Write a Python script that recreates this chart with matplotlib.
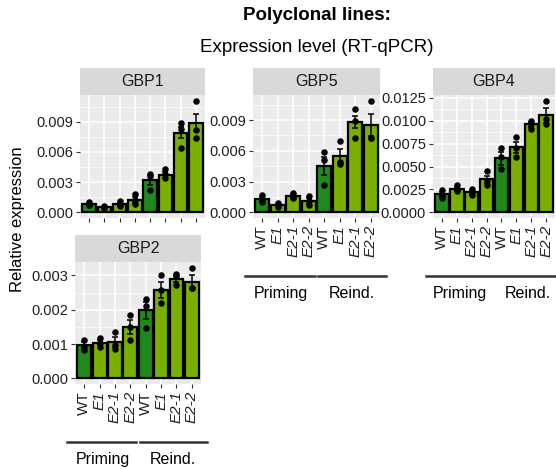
import numpy as np
import matplotlib.pyplot as plt
from matplotlib.patches import Rectangle

plt.rcParams['font.family'] = ['Liberation Sans', 'DejaVu Sans']

W, H = 556, 469

conditions = ["WT", "E1", "E2-1", "E2-2", "WT", "E1", "E2-1", "E2-2"]
groups = ["Priming", "Reind."]
is_wt = [True, False, False, False, True, False, False, False]

# GBP1
gbp1_mean = [0.00082, 0.0005, 0.0008, 0.0012, 0.0032, 0.0037, 0.0079, 0.0089]
gbp1_sem = [0.0001, 0.00005, 0.00015, 0.0003, 0.0005, 0.0003, 0.00055, 0.00085]
gbp1_pts = [[0.0010, 0.0007, 0.0007], [0.0006, 0.0005, 0.0004], [0.0011, 0.0007, 0.0006],
            [0.0018, 0.0012, 0.0008], [0.0038, 0.0036, 0.0022], [0.0043, 0.0038, 0.0034],
            [0.0089, 0.0083, 0.0064], [0.0111, 0.0082, 0.0074]]

# GBP5
gbp5_mean = [0.0013, 0.0007, 0.0016, 0.0011, 0.0045, 0.0055, 0.0088, 0.0085]
gbp5_sem = [0.0002, 0.0001, 0.0002, 0.0003, 0.0009, 0.0007, 0.0006, 0.0011]
gbp5_pts = [[0.0017, 0.0013, 0.0010], [0.0009, 0.0007, 0.0005], [0.0019, 0.0015, 0.0014],
            [0.0016, 0.0011, 0.0007], [0.0059, 0.0051, 0.0027], [0.0070, 0.0049, 0.0047],
            [0.0101, 0.0089, 0.0073], [0.0109, 0.0073, 0.0073]]

# GBP4
gbp4_mean = [0.0020, 0.0026, 0.0022, 0.0036, 0.0059, 0.0071, 0.0096, 0.0106]
gbp4_sem = [0.0002, 0.0002, 0.0002, 0.0004, 0.0007, 0.0006, 0.0003, 0.0008]
gbp4_pts = [[0.0024, 0.0018, 0.0016], [0.0030, 0.0025, 0.0023], [0.0025, 0.0022, 0.0019],
            [0.0045, 0.0034, 0.0030], [0.0070, 0.0060, 0.0047], [0.0082, 0.0070, 0.0060],
            [0.0100, 0.0096, 0.0091], [0.0122, 0.0102, 0.0096]]

# GBP2
gbp2_mean = [0.00096, 0.00104, 0.00106, 0.0015, 0.00198, 0.00258, 0.00291, 0.00282]
gbp2_sem = [0.00009, 0.00008, 0.00015, 0.0002, 0.00025, 0.00023, 0.0001, 0.0002]
gbp2_pts = [[0.00113, 0.00092, 0.00082], [0.00118, 0.00102, 0.00092], [0.00136, 0.00098, 0.00086],
            [0.00186, 0.0015, 0.00112], [0.00232, 0.00212, 0.00147], [0.0030, 0.00258, 0.0022],
            [0.00304, 0.00298, 0.00272], [0.00323, 0.00262, 0.00262]]

dark_green = '#1E8A1E'
light_green = '#79B000'
txt_col = '#1F1F1F'

fig = plt.figure(figsize=(W / 100, H / 100), dpi=100)


def panel(name, means, sems, pts, yticks, fmt, box, show_labels):
    left, top, right, bottom = box
    ax = fig.add_axes([left / W, 1 - bottom / H, (right - left) / W, (bottom - top) / H])
    ax.set_facecolor('#EBEBEB')
    x = np.arange(1, len(means) + 1)
    cols = [dark_green if w else light_green for w in is_wt]
    ax.bar(x, means, width=0.9, color=cols, edgecolor='black', linewidth=1.6, zorder=3)
    ax.errorbar(x, means, yerr=sems, fmt='none', ecolor='black', elinewidth=1.1,
                capsize=2.5, capthick=1.1, zorder=4)
    for xi, p in zip(x, pts):
        ax.scatter([xi] * len(p), p, s=22, color='black', zorder=5, linewidths=0)
    top_val = max(max(max(p) for p in pts), max(m + s for m, s in zip(means, sems)))
    ax.set_ylim(-0.05 * top_val, 1.05 * top_val)
    ax.set_xlim(0.4, len(means) + 0.6)
    ax.set_yticks(yticks)
    ax.set_yticklabels([fmt.format(v) for v in yticks])
    minor = [(a + b) / 2 for a, b in zip(yticks[:-1], yticks[1:])]
    if yticks[-1] + (yticks[1] - yticks[0]) / 2 < 1.05 * top_val:
        minor.append(yticks[-1] + (yticks[1] - yticks[0]) / 2)
    ax.set_yticks(minor, minor=True)
    ax.set_xticks(x)
    ax.grid(True, which='major', color='white', linewidth=1.1, zorder=0)
    ax.grid(True, which='minor', axis='y', color='white', linewidth=0.5, zorder=0)
    ax.set_axisbelow(True)
    for s in ax.spines.values():
        s.set_visible(False)
    ax.tick_params(axis='both', which='major', length=3, width=0.8, color='#333333',
                   labelsize=10.5, labelcolor=txt_col, pad=2)
    ax.tick_params(axis='y', which='minor', length=0)
    if show_labels:
        ax.set_xticklabels(conditions, rotation=90, ha='center', va='top', fontsize=11)
        for lab, w in zip(ax.get_xticklabels(), is_wt):
            lab.set_fontstyle('normal' if w else 'italic')
        hpx = bottom - top
        tr = ax.get_xaxis_transform()
        ly = -58 / hpx
        ty = -68 / hpx
        ax.plot([-0.1, 4.4], [ly, ly], color='#333333', lw=1.8, transform=tr, clip_on=False)
        ax.plot([4.6, 9.0], [ly, ly], color='#333333', lw=1.8, transform=tr, clip_on=False)
        ax.text(2.2, ty, groups[0], transform=tr, ha='center', va='top', fontsize=11.5, color='black')
        ax.text(6.8, ty, groups[1], transform=tr, ha='center', va='top', fontsize=11.5, color='black')
    else:
        ax.set_xticklabels([])
    # strip
    sh = 27 / (bottom - top)
    ax.add_patch(Rectangle((0, 1), 1, sh, transform=ax.transAxes, facecolor='#D9D9D9',
                           edgecolor='none', clip_on=False))
    ax.text(0.5, 1 + sh / 2, name, transform=ax.transAxes, ha='center', va='center',
            fontsize=11.5, color='#1A1A1A')
    return ax


panel("GBP1", gbp1_mean, gbp1_sem, gbp1_pts, [0, 0.003, 0.006, 0.009], "{:.3f}",
      (80, 95, 205, 218), False)
panel("GBP5", gbp5_mean, gbp5_sem, gbp5_pts, [0, 0.003, 0.006, 0.009], "{:.3f}",
      (253, 95, 380, 218), True)
panel("GBP4", gbp4_mean, gbp4_sem, gbp4_pts, [0, 0.0025, 0.005, 0.0075, 0.01, 0.0125], "{:.4f}",
      (433, 95, 555, 218), True)
panel("GBP2", gbp2_mean, gbp2_sem, gbp2_pts, [0, 0.001, 0.002, 0.003], "{:.3f}",
      (75, 262, 201, 384), True)

fig.text(317 / W, 1 - 16 / H, "Polyclonal lines:", ha='center', va='center',
         fontsize=13.5, fontweight='bold')
fig.text(317 / W, 1 - 48 / H, "Expression level (RT-qPCR)", ha='center', va='center',
         fontsize=13.5)
fig.text(18 / W, 1 - 219 / H, "Relative expression", ha='center', va='center',
         rotation=90, fontsize=12)

fig.savefig("out.png", dpi=100)
